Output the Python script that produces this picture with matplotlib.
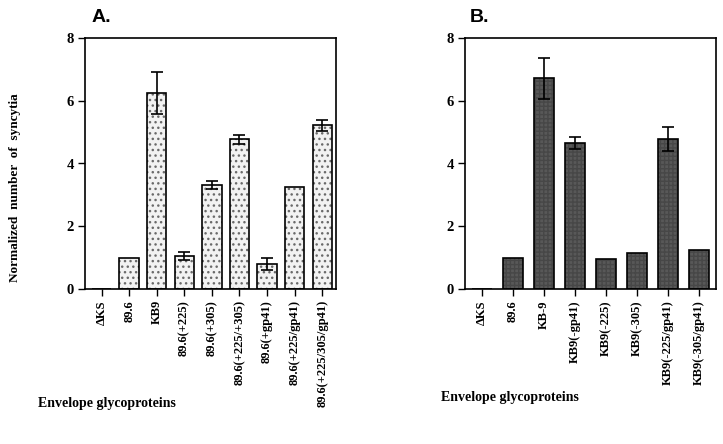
import matplotlib
matplotlib.use("Agg")
import matplotlib.pyplot as plt
import numpy as np

# Panel A data
cats_a = ["\u0394KS", "89.6", "KB9", "89.6(+225)", "89.6(+305)", "89.6(+225/+305)",
          "89.6(+gp41)", "89.6(+225/gp41)", "89.6(+225/305/gp41)"]
vals_a = [0.0, 1.0, 6.25, 1.06, 3.31, 4.77, 0.79, 3.26, 5.22]
err_a = [np.nan, np.nan, 0.67, 0.13, 0.13, 0.15, 0.2, np.nan, 0.18]

# Panel B data
cats_b = ["\u0394KS", "89.6", "KB-9", "KB9(-gp41)", "KB9(-225)", "KB9(-305)",
          "KB9(-225/gp41)", "KB9(-305/gp41)"]
vals_b = [0.0, 1.0, 6.71, 4.66, 0.95, 1.14, 4.77, 1.24]
err_b = [np.nan, np.nan, 0.66, 0.2, np.nan, np.nan, 0.38, np.nan]

yticks = [0, 2, 4, 6, 8]

serif = "Liberation Serif"
sans = "Liberation Sans"

fig = plt.figure(figsize=(7.23, 4.44), dpi=100)
axA = fig.add_axes([85/723, 1-289/444, (336-85)/723, (289-38)/444])
axB = fig.add_axes([465/723, 1-289/444, (716-465)/723, (289-38)/444])

def style(ax, cats, xlim):
    ax.set_ylim(0, 8)
    ax.set_xlim(*xlim)
    ax.set_yticks(yticks)
    ax.set_yticklabels([str(t) for t in yticks], fontfamily=serif, fontweight="bold", fontsize=10.5)
    ax.set_xticks(np.arange(len(cats)))
    ax.set_xticklabels(cats, rotation=90, fontfamily=serif, fontweight="bold", fontsize=9, va="top")
    ax.tick_params(direction="out", length=5, width=1.0, pad=3, color="black")
    for s in ax.spines.values():
        s.set_linewidth(1.2)

x_a = np.arange(len(cats_a))
# dotted fill layer
axA.bar(x_a, vals_a, width=0.7, color="#f2f2f2", hatch="...", edgecolor="#6a6a6a", linewidth=0, zorder=2)
axA.bar(x_a, vals_a, width=0.7, fill=False, edgecolor="black", linewidth=1.2, zorder=3)
axA.errorbar(x_a, vals_a, yerr=err_a, fmt="none", ecolor="black", elinewidth=1.2, capsize=4, capthick=1.2, zorder=4)
style(axA, cats_a, (-0.6, 8.5))

x_b = np.arange(len(cats_b))
axB.bar(x_b, vals_b, width=0.66, color="#585858", hatch="++++", edgecolor="#474747", linewidth=0, zorder=2)
axB.bar(x_b, vals_b, width=0.66, fill=False, edgecolor="black", linewidth=1.2, zorder=3)
axB.errorbar(x_b, vals_b, yerr=err_b, fmt="none", ecolor="black", elinewidth=1.2, capsize=4, capthick=1.2, zorder=4)
style(axB, cats_b, (-0.54, 7.54))

fig.text(92/723, 1-17/444, "A.", fontfamily=sans, fontweight="bold", fontsize=14, ha="left", va="center")
fig.text(470/723, 1-17/444, "B.", fontfamily=sans, fontweight="bold", fontsize=14, ha="left", va="center")

fig.text(15/723, 1-188/444, "Normalized  number  of  syncytia", rotation=90, fontfamily=serif,
         fontweight="bold", fontsize=9.5, ha="center", va="center")
fig.text(38/723, 1-403/444, "Envelope glycoproteins", fontfamily=serif, fontweight="bold",
         fontsize=10, ha="left", va="center")
fig.text(441/723, 1-397/444, "Envelope glycoproteins", fontfamily=serif, fontweight="bold",
         fontsize=10, ha="left", va="center")

fig.savefig("out.png", dpi=100)
